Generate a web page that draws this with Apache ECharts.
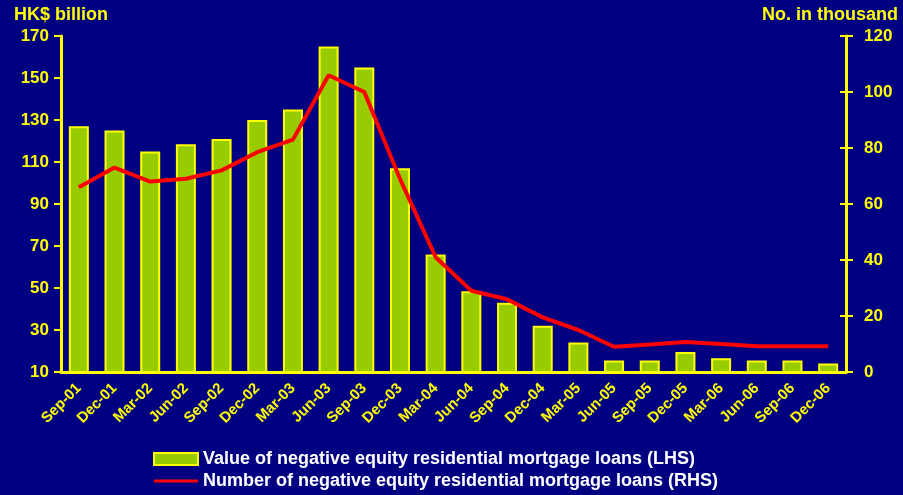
<!DOCTYPE html>
<html>
<head>
<meta charset="utf-8">
<script src="https://cdn.jsdelivr.net/npm/echarts@6/dist/echarts.min.js"></script>
<style>
html, body { margin: 0; padding: 0; background: #000080; }
#main { width: 903px; height: 495px; }
</style>
</head>
<body>
<div id="main"></div>
<script>
// negative equity residential mortgage loans, quarterly
var quarters = ['Sep-01','Dec-01','Mar-02','Jun-02','Sep-02','Dec-02','Mar-03','Jun-03','Sep-03','Dec-03','Mar-04',
    'Jun-04','Sep-04','Dec-04','Mar-05','Jun-05','Sep-05','Dec-05','Mar-06','Jun-06','Sep-06','Dec-06'];
var loanValue = [127, 125, 115, 118.5, 121, 130, 135, 165, 155, 107, 66,
    48.5, 43, 32, 24, 15.5, 15.5, 19.5, 16.5, 15.5, 15.5, 14];      // HK$ billion (LHS)
var loanNumber = [66, 73, 68, 69, 72, 78.5, 83, 106, 100, 69, 41,
    29, 26, 19.5, 15, 9, 9.8, 10.7, 10, 9.2, 9.2, 9.2];               // thousand (RHS)
var leftTicks = { min: 10, max: 170, interval: 20 };
var rightTicks = { min: 0, max: 120, interval: 20 };

var chart = echarts.init(document.getElementById('main'));
var yellow = '#FFFF00';
var axisText = { color: yellow, fontFamily: 'Liberation Sans, Arial', fontWeight: 'bold', fontSize: 17 };

option = {
    backgroundColor: '#000080',
    animation: false,
    grid: { left: 61, right: 57, top: 36, bottom: 123 },
    graphic: [
        { type: 'text', left: 14, top: 6, style: { text: 'HK$ billion', fill: yellow, font: 'bold 18px Liberation Sans, Arial' } },
        { type: 'text', right: 5, top: 6, style: { text: 'No. in thousand', fill: yellow, font: 'bold 18px Liberation Sans, Arial' } }
    ],
    legend: {
        orient: 'vertical',
        left: 148,
        top: 445,
        itemWidth: 44,
        itemHeight: 12,
        itemGap: 4,
        textStyle: { color: '#FFFFFF', fontFamily: 'Liberation Sans, Arial', fontWeight: 'bold', fontSize: 18 },
        data: [
            { name: 'Value of negative equity residential mortgage loans (LHS)', icon: 'rect' },
            { name: 'Number of negative equity residential mortgage loans (RHS)', icon: 'path://M0,5H44V8H0Z' }
        ]
    },
    xAxis: {
        type: 'category',
        data: quarters,
        axisLine: { lineStyle: { color: yellow, width: 3 } },
        axisTick: { lineStyle: { color: yellow, width: 2 }, length: 6 },
        axisLabel: Object.assign({}, axisText, { rotate: 45, interval: 0, fontSize: 15, margin: 14 }),
        splitLine: { show: false }
    },
    yAxis: [
        {
            type: 'value', position: 'left',
            min: leftTicks.min, max: leftTicks.max, interval: leftTicks.interval,
            axisLine: { show: true, lineStyle: { color: yellow, width: 3 } },
            axisTick: { show: true, length: 7, lineStyle: { color: yellow, width: 2 } },
            axisLabel: Object.assign({ margin: 12 }, axisText),
            splitLine: { show: false }
        },
        {
            type: 'value', position: 'right',
            min: rightTicks.min, max: rightTicks.max, interval: rightTicks.interval,
            axisLine: { show: true, lineStyle: { color: yellow, width: 3 } },
            axisTick: { show: true, length: 7, lineStyle: { color: yellow, width: 2 } },
            axisLabel: Object.assign({ margin: 18 }, axisText),
            splitLine: { show: false }
        },
        {
            // inner half of the crossing ticks on the right axis
            type: 'value', position: 'right',
            min: rightTicks.min, max: rightTicks.max, interval: rightTicks.interval,
            axisLine: { show: false },
            axisTick: { show: true, inside: true, length: 6, lineStyle: { color: yellow, width: 2 } },
            axisLabel: { show: false },
            splitLine: { show: false }
        }
    ],
    series: [
        {
            name: 'Value of negative equity residential mortgage loans (LHS)',
            type: 'bar',
            yAxisIndex: 0,
            data: loanValue,
            barWidth: 20,
            itemStyle: { color: '#99CC00', borderColor: yellow, borderWidth: 2 }
        },
        {
            name: 'Number of negative equity residential mortgage loans (RHS)',
            type: 'line',
            yAxisIndex: 1,
            data: loanNumber,
            symbol: 'none',
            lineStyle: { color: '#FF0000', width: 4 },
            itemStyle: { color: '#FF0000' }
        }
    ]
};
chart.setOption(option);
</script>
</body>
</html>
